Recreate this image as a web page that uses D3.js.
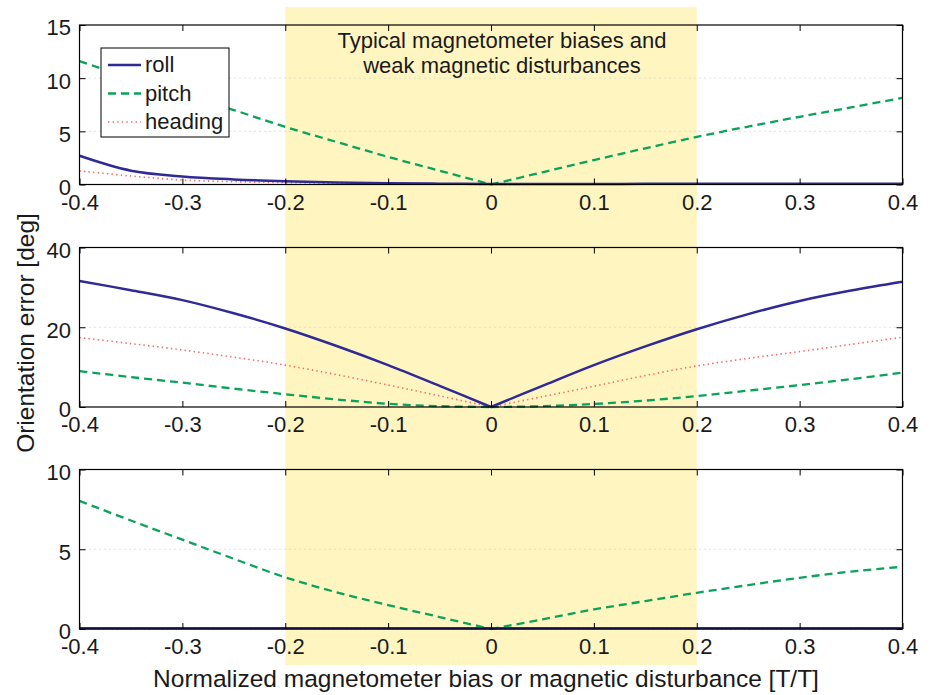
<!DOCTYPE html>
<html>
<head>
<meta charset="utf-8">
<script src="https://cdn.jsdelivr.net/npm/d3@7"></script>
<style>
  html, body { margin: 0; padding: 0; background: #fff; }
  svg { display: block; font-family: "Liberation Sans", Arial, Helvetica, sans-serif; }
</style>
</head>
<body>
<svg id="chart" width="932" height="695"></svg>
<script>
// ---------------- data ----------------
const xValues = [-0.4,-0.35,-0.3,-0.25,-0.2,-0.15,-0.1,-0.05,0,0.05,0.1,0.15,0.2,0.25,0.3,0.35,0.4];
const xTickLabels = ["-0.4","-0.3","-0.2","-0.1","0","0.1","0.2","0.3","0.4"];
const xTicks = [-0.4,-0.3,-0.2,-0.1,0,0.1,0.2,0.3,0.4];

// panel 1 (top)
const p1Roll    = [2.7,1.3,0.76,0.48,0.3,0.19,0.12,0.08,0.05,0.05,0.05,0.06,0.06,0.07,0.07,0.08,0.08];
const p1Pitch   = [11.6,10.0,8.5,7.0,5.42,4.0,2.6,1.3,0,1.15,2.3,3.4,4.48,5.45,6.37,7.25,8.15];
const p1Heading = [1.28,0.8,0.42,0.26,0.18,0.12,0.08,0.04,0,0.02,0.02,0.02,0.02,0.02,0.02,0.02,0.02];
const p1YTicks  = [0,5,10,15];

// panel 2 (middle)
const p2Roll    = [31.6,29.3,26.8,23.5,19.7,15.3,10.5,5.3,0,5.3,10.5,15.2,19.5,23.3,26.6,29.2,31.4];
const p2Pitch   = [9.0,7.5,6.1,4.6,3.2,1.9,0.8,0.2,0,0.2,0.75,1.6,2.75,4.1,5.5,7.0,8.6];
const p2Heading = [17.4,15.9,14.3,12.5,10.5,8.1,5.5,2.8,0,2.6,5.2,7.9,10.3,12.2,13.9,15.7,17.5];
const p2YTicks  = [0,20,40];

// panel 3 (bottom)
const p3Roll    = [0.05,0.05,0.05,0.05,0.05,0.05,0.05,0.05,0.05,0.05,0.05,0.05,0.05,0.05,0.05,0.05,0.05];
const p3Pitch   = [8.03,6.8,5.6,4.4,3.24,2.3,1.5,0.75,0,0.6,1.23,1.75,2.27,2.75,3.21,3.6,3.9];
const p3Heading = [0.02,0.02,0.02,0.02,0.02,0.02,0.02,0.02,0,0.02,0.02,0.02,0.02,0.02,0.02,0.02,0.02];
const p3YTicks  = [0,5,10];

const seriesNames = ["roll","pitch","heading"];
const bandRange = [-0.2, 0.2];
const annotationLines = ["Typical magnetometer biases and","weak magnetic disturbances"];
const yLabel = "Orientation error [deg]";
const xLabel = "Normalized magnetometer bias or magnetic disturbance [T/T]";

// ---------------- styles ----------------
const styles = {
  roll:    { color: "#2f2a96", width: 2.5, dash: null },
  pitch:   { color: "#0aa35a", width: 2.3, dash: "8,5" },
  heading: { color: "#f26b6b", width: 1.6, dash: "1.4,3.2" }
};

const panels = [
  { top: 25,    bottom: 184.5, ticks: p1YTicks, data: { roll: p1Roll, pitch: p1Pitch, heading: p1Heading } },
  { top: 247.5, bottom: 407,   ticks: p2YTicks, data: { roll: p2Roll, pitch: p2Pitch, heading: p2Heading } },
  { top: 469.5, bottom: 629,   ticks: p3YTicks, data: { roll: p3Roll, pitch: p3Pitch, heading: p3Heading } }
];

const svg = d3.select("#chart");
const fontSize = 22;
const titleSize = 24.5;
const x = d3.scaleLinear().domain([-0.4, 0.4]).range([79.5, 902.5]);

// yellow band (behind everything)
svg.append("rect")
  .attr("x", x(bandRange[0]))
  .attr("y", 7)
  .attr("width", x(bandRange[1]) - x(bandRange[0]))
  .attr("height", 658)
  .attr("fill", "#fff5c1");

panels.forEach((p, pi) => {
  const y = d3.scaleLinear().domain([0, d3.max(p.ticks)]).range([p.bottom, p.top]);
  const g = svg.append("g");

  // dotted grid lines
  g.selectAll("line.grid")
    .data(p.ticks.filter(t => t !== 0 && t !== d3.max(p.ticks)))
    .join("line")
    .attr("x1", x.range()[0]).attr("x2", x.range()[1])
    .attr("y1", d => y(d)).attr("y2", d => y(d))
    .attr("stroke", "#c8c8c8").attr("stroke-width", 1)
    .attr("stroke-dasharray", "1,4");

  // series lines: split left / right of zero so the V stays sharp
  const line = d3.line().x(d => x(d[0])).y(d => y(d[1])).curve(d3.curveCatmullRom.alpha(0.5));
  ["heading","pitch","roll"].forEach(name => {
    const vals = p.data[name];
    const pts = xValues.map((xv, i) => [xv, vals[i]]);
    const left = pts.filter(d => d[0] <= 0);
    const right = pts.filter(d => d[0] >= 0);
    [left, right].forEach(seg => {
      g.append("path")
        .attr("d", line(seg))
        .attr("fill", "none")
        .attr("stroke", styles[name].color)
        .attr("stroke-width", styles[name].width)
        .attr("stroke-dasharray", styles[name].dash)
        .attr("stroke-linecap", "butt");
    });
  });

  // axes
  const bottomAxis = d3.axisBottom(x).tickValues(xTicks)
    .tickFormat((d, i) => xTickLabels[i]).tickSize(-6).tickSizeOuter(0).tickPadding(9.5);
  const topAxis = d3.axisTop(x).tickValues(xTicks).tickFormat("").tickSize(-6).tickSizeOuter(0);
  const leftAxis = d3.axisLeft(y).tickValues(p.ticks).tickFormat(d3.format("d")).tickSize(-6).tickSizeOuter(0).tickPadding(8.5);
  const rightAxis = d3.axisRight(y).tickValues(p.ticks).tickFormat("").tickSize(-6).tickSizeOuter(0);

  const gb = g.append("g").attr("transform", `translate(0,${p.bottom})`).call(bottomAxis);
  const gt = g.append("g").attr("transform", `translate(0,${p.top})`).call(topAxis);
  const gl = g.append("g").attr("transform", `translate(${x.range()[0]},0)`).call(leftAxis);
  const gr = g.append("g").attr("transform", `translate(${x.range()[1]},0)`).call(rightAxis);
  [gb, gt, gl, gr].forEach(a => {
    a.select(".domain").remove();
    a.selectAll("line").attr("stroke", "#000");
    a.selectAll("text").attr("font-size", fontSize).attr("font-family", null).attr("fill", "#1a1a1a");
  });
  gl.selectAll("text").attr("dy", "0.45em");

  // frame
  g.append("rect")
    .attr("x", x.range()[0]).attr("y", p.top)
    .attr("width", x.range()[1] - x.range()[0]).attr("height", p.bottom - p.top)
    .attr("fill", "none").attr("stroke", "#000").attr("stroke-width", 1.2);

  if (pi === 0) {
    // legend
    const lg = g.append("g");
    lg.append("rect").attr("x", 101).attr("y", 48).attr("width", 128).attr("height", 89)
      .attr("fill", "#fff").attr("stroke", "#000").attr("stroke-width", 1);
    seriesNames.forEach((name, i) => {
      const yy = 65 + i * 28.5;
      lg.append("line").attr("x1", 108).attr("x2", 141).attr("y1", yy).attr("y2", yy)
        .attr("stroke", styles[name].color).attr("stroke-width", styles[name].width)
        .attr("stroke-dasharray", styles[name].dash);
      lg.append("text").attr("x", 145).attr("y", yy + 7).attr("font-size", fontSize)
        .attr("fill", "#1a1a1a").text(name);
    });
    // annotation
    annotationLines.forEach((t, i) => {
      g.append("text").attr("x", 502).attr("y", 48 + i * 24.7)
        .attr("text-anchor", "middle").attr("font-size", fontSize).attr("fill", "#1a1a1a").text(t);
    });
  }
});

// axis titles
svg.append("text")
  .attr("transform", "translate(34,333) rotate(-90)")
  .attr("text-anchor", "middle").attr("font-size", titleSize).attr("fill", "#1a1a1a")
  .text(yLabel);
svg.append("text")
  .attr("x", 486).attr("y", 687)
  .attr("text-anchor", "middle").attr("font-size", titleSize).attr("fill", "#1a1a1a")
  .text(xLabel);
</script>
</body>
</html>
